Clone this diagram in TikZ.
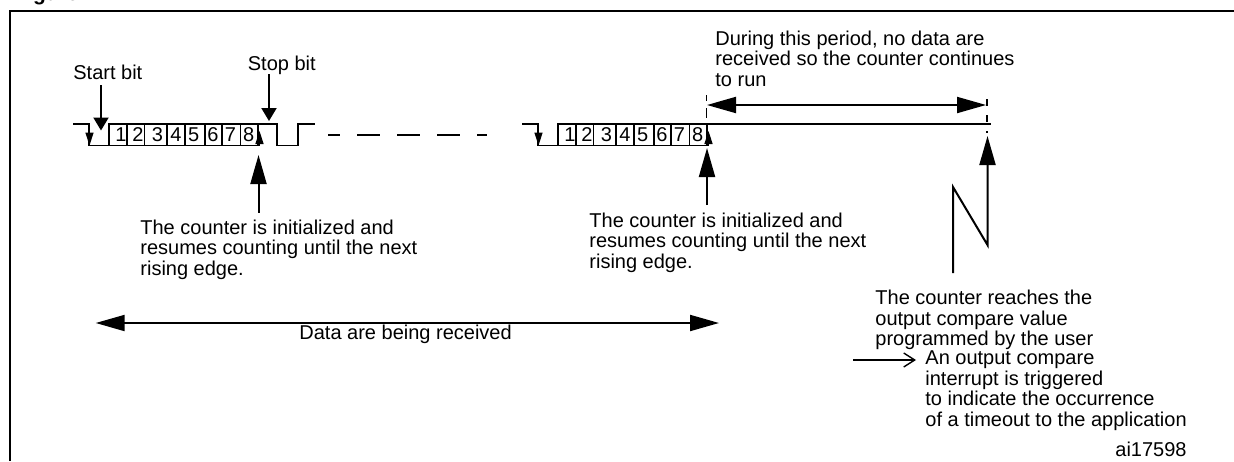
\documentclass[tikz,border=0pt]{standalone}
\usepackage{fontspec}
\setmainfont{Liberation Sans}
\usetikzlibrary{arrows.meta}
\tikzset{
	txt/.style={anchor=base west, inner sep=0pt, align=left, font=\fontsize{10}{10.25}\selectfont},
	bit/.style={anchor=base, inner sep=0pt, font=\fontsize{10}{10.25}\selectfont},
	sig/.style={line width=0.8pt, line join=miter},
	bigtip/.style={line width=1pt, -{Triangle[length=14.5pt, width=8pt]}},
	midtip/.style={line width=1pt, -{Triangle[length=6.5pt, width=7.5pt]}},
	smalltip/.style={line width=0.7pt, -{Triangle[length=6.5pt, width=4pt]}}
}
\begin{document}
\begin{tikzpicture}[x=0.5pt, y=-0.5pt]
	\path[use as bounding box, clip] (0,0) rectangle (1234,461);
	\draw[line width=1pt] (9.5,461) -- (9.5,10.5) -- (1234,10.5);
	\node[txt, font=\fontsize{10.5}{12}\selectfont\bfseries] (title) at (14,0.5) {Figure};
	% the two data frames
	\foreach \frm/\shft in {A/0,B/224.5} {
		\begin{scope}[xshift=\shft pt]
			\draw[sig] (73,124) -- (89,124) -- (89,145.5) -- (258,145.5) -- (258,124) -- (109,124) -- (109,145.5);
			\foreach \x in {127,144.5,167,185,205,222,240.5} {
				\draw[sig] (\x,124) -- (\x,145.5);
			}
			\foreach \x/\n in {121/1,138/2,157.5/3,176/4,193.7/5,213/6,230.5/7,248.7/8} {
				\node[bit] (bit\frm\n) at (\x,141) {\n};
			}
			\coordinate (dnA\frm) at (89.5,124);
			\coordinate (dnB\frm) at (89.5,145.5);
			\coordinate (upA\frm) at (259.5,145.5);
			\coordinate (upB\frm) at (259.5,131);
			\draw[smalltip] (dnA\frm) -- (dnB\frm);
			\draw[smalltip] (upA\frm) -- (upB\frm);
		\end{scope}
	}
	% after the frames
	\draw[sig] (258,124) -- (277,124) -- (277,145.5) -- (298,145.5) -- (298,124) -- (315,124);
	\draw[sig, dash pattern=on 11.5pt off 8.5pt, dash phase=5.5pt] (328,135) -- (487,135);
	\draw[sig] (707,124) -- (991,124);
	\draw[line width=0.7pt, dash pattern=on 3pt off 3.5pt on 5pt off 3pt] (706.5,95) -- (706.5,124);
	\draw[line width=0.7pt, dash pattern=on 3.5pt off 4.5pt] (987,99) -- (987,133);
	% labels
	\node[txt] (start) at (73,79) {Start bit};
	\node[txt] (stop) at (247.5,70) {Stop bit};
	\node[txt] (period) at (715,86) {During this period, no data are\\received so the counter continues\\to run};
	\node[txt] (initA) at (140,275) {The counter is initialized and\\resumes counting until the next\\rising edge.};
	\node[txt] (initB) at (589,268) {The counter is initialized and\\resumes counting until the next\\rising edge.};
	\node[txt] (data) at (299,339) {Data are being received};
	\node[txt] (reach) at (875,345.6) {The counter reaches the\\output compare value\\programmed by the user};
	\node[txt] (irq) at (925,426) {An output compare\\interrupt is triggered\\to indicate the occurrence\\of a timeout to the application};
	\node[txt] (code) at (1115,456.7) {ai17598};
	% arrows
	\coordinate (startT) at (101,85);
	\coordinate (startH) at (101,130.5);
	\coordinate (stopT) at (269,74);
	\coordinate (stopH) at (269,121);
	\coordinate (initAT) at (258.5,212.7);
	\coordinate (initAH) at (258.5,155);
	\coordinate (initBT) at (707,205);
	\coordinate (initBH) at (707,148);
	\coordinate (perL) at (707,105);
	\coordinate (perR) at (986,105);
	\coordinate (dataL) at (95.7,323);
	\coordinate (dataR) at (719,323);
	\coordinate (brkA) at (953,273);
	\coordinate (brkB) at (953,187);
	\coordinate (brkC) at (987.5,245);
	\coordinate (brkD) at (987.5,136);
	\coordinate (irqT) at (853,360);
	\coordinate (irqH) at (916,360);
	\draw[midtip] (startT) -- (startH);
	\draw[midtip] (stopT) -- (stopH);
	\draw[bigtip] (initAT) -- (initAH);
	\draw[bigtip] (initBT) -- (initBH);
	\draw[line width=1pt, {Triangle[length=14.5pt, width=8pt]}-{Triangle[length=14.5pt, width=8pt]}] (perL) -- (perR);
	\draw[line width=1pt, {Triangle[length=14.5pt, width=8pt]}-{Triangle[length=14.5pt, width=8pt]}] (dataL) -- (dataR);
	\draw[bigtip, line join=miter] (brkA) -- (brkB) -- (brkC) -- (brkD);
	\draw[line width=0.7pt, -{Straight Barb[length=5.5pt, width=7pt]}] (irqT) -- (irqH);
\end{tikzpicture}
\end{document}
